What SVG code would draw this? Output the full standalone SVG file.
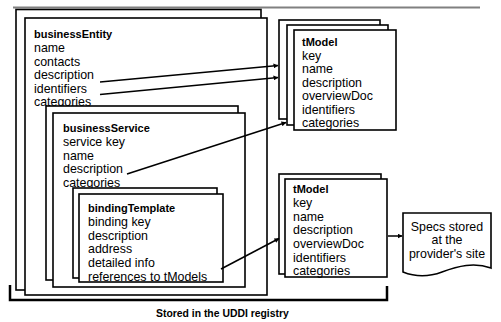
<svg xmlns="http://www.w3.org/2000/svg" width="501" height="322" viewBox="0 0 501 322">
  <style>
    .box { fill: #fff; stroke: #000; stroke-width: 1.6; }
    .t { font-family: "Liberation Sans", Arial, sans-serif; font-size: 12.4px; fill: #000; }
    .h { font-family: "Liberation Sans", Arial, sans-serif; font-size: 11px; font-weight: bold; fill: #000; }
    .cap { font-family: "Liberation Sans", Arial, sans-serif; font-size: 10.4px; font-weight: bold; fill: #000; }
    .link { fill: none; stroke: #000; stroke-width: 1.5; }
  </style>
  <defs>
    <marker id="arrow" viewBox="0 0 10 10" refX="9" refY="5" markerWidth="5" markerHeight="5" orient="auto" markerUnits="userSpaceOnUse">
      <path d="M0,0 L10,5 L0,10 Z" fill="#000"/>
    </marker>
  </defs>

  <rect width="501" height="322" fill="#fff"/>

  <!-- top rule -->
  <line x1="13" y1="7.5" x2="480" y2="7.5" stroke="#808080" stroke-width="2"/>

  <!-- registry bracket -->
  <path d="M10,285 V300 H387 V286" fill="none" stroke="#000" stroke-width="2.5"/>

  <g id="businessEntity">
    <rect class="box" x="16" y="9.5" width="245" height="280.5"/>
    <rect class="box" x="25" y="18" width="242" height="277"/>
    <text class="h" x="34" y="37.5">businessEntity</text>
    <text class="t" x="34" y="52">name</text>
    <text class="t" x="34" y="65.5">contacts</text>
    <text class="t" x="34" y="79">description</text>
    <text class="t" x="34" y="92.5">identifiers</text>
    <text class="t" x="34" y="106">categories</text>
  </g>

  <g id="businessService">
    <rect class="box" x="46" y="106" width="192" height="174"/>
    <rect class="box" x="53" y="113" width="192" height="174"/>
    <text class="h" x="63" y="132">businessService</text>
    <text class="t" x="63" y="146">service key</text>
    <text class="t" x="63" y="159.5">name</text>
    <text class="t" x="63" y="173">description</text>
    <text class="t" x="63" y="187">categories</text>
  </g>

  <g id="bindingTemplate">
    <rect class="box" x="73" y="188" width="144" height="90"/>
    <rect class="box" x="79" y="194" width="144" height="88"/>
    <text class="h" x="88" y="212">bindingTemplate</text>
    <text class="t" x="88" y="226">binding key</text>
    <text class="t" x="88" y="239.5">description</text>
    <text class="t" x="88" y="253">address</text>
    <text class="t" x="88" y="267">detailed info</text>
    <text class="t" x="88" y="280.5">references to tModels</text>
  </g>

  <g id="tModelTop">
    <rect class="box" x="279" y="20" width="101" height="99"/>
    <rect class="box" x="287" y="25" width="101" height="100"/>
    <rect class="box" x="294" y="30" width="102" height="100"/>
    <text class="h" x="302" y="46">tModel</text>
    <text class="t" x="302" y="59.5">key</text>
    <text class="t" x="302" y="73">name</text>
    <text class="t" x="302" y="86.5">description</text>
    <text class="t" x="302" y="100">overviewDoc</text>
    <text class="t" x="302" y="113.5">identifiers</text>
    <text class="t" x="302" y="127">categories</text>
  </g>

  <g id="tModelBottom">
    <rect class="box" x="279" y="174" width="102" height="100"/>
    <rect class="box" x="285" y="179" width="102" height="98"/>
    <text class="h" x="293" y="193">tModel</text>
    <text class="t" x="293" y="207">key</text>
    <text class="t" x="293" y="220.5">name</text>
    <text class="t" x="293" y="234">description</text>
    <text class="t" x="293" y="248">overviewDoc</text>
    <text class="t" x="293" y="261.5">identifiers</text>
    <text class="t" x="293" y="275">categories</text>
  </g>

  <g id="specs">
    <path class="box" d="M403,213 H491 V268 C474,262 458,266 442,272 C426,278 413,276 403,272 Z"/>
    <text class="t" text-anchor="middle" x="447" y="231">Specs stored</text>
    <text class="t" text-anchor="middle" x="447" y="244">at the</text>
    <text class="t" text-anchor="middle" x="447" y="257.5">provider's site</text>
  </g>

  <g id="connectors">
    <line class="link" x1="100" y1="82" x2="278" y2="65.5" marker-end="url(#arrow)"/>
    <line class="link" x1="100" y1="94.5" x2="278" y2="77.5" marker-end="url(#arrow)"/>
    <line class="link" x1="127" y1="174" x2="286" y2="122.5" marker-end="url(#arrow)"/>
    <line class="link" x1="221" y1="269" x2="279" y2="238.5" marker-end="url(#arrow)"/>
    <line class="link" x1="388" y1="236" x2="402" y2="236" marker-end="url(#arrow)"/>
  </g>

  <text class="cap" x="156" y="317">Stored in the UDDI registry</text>
</svg>
